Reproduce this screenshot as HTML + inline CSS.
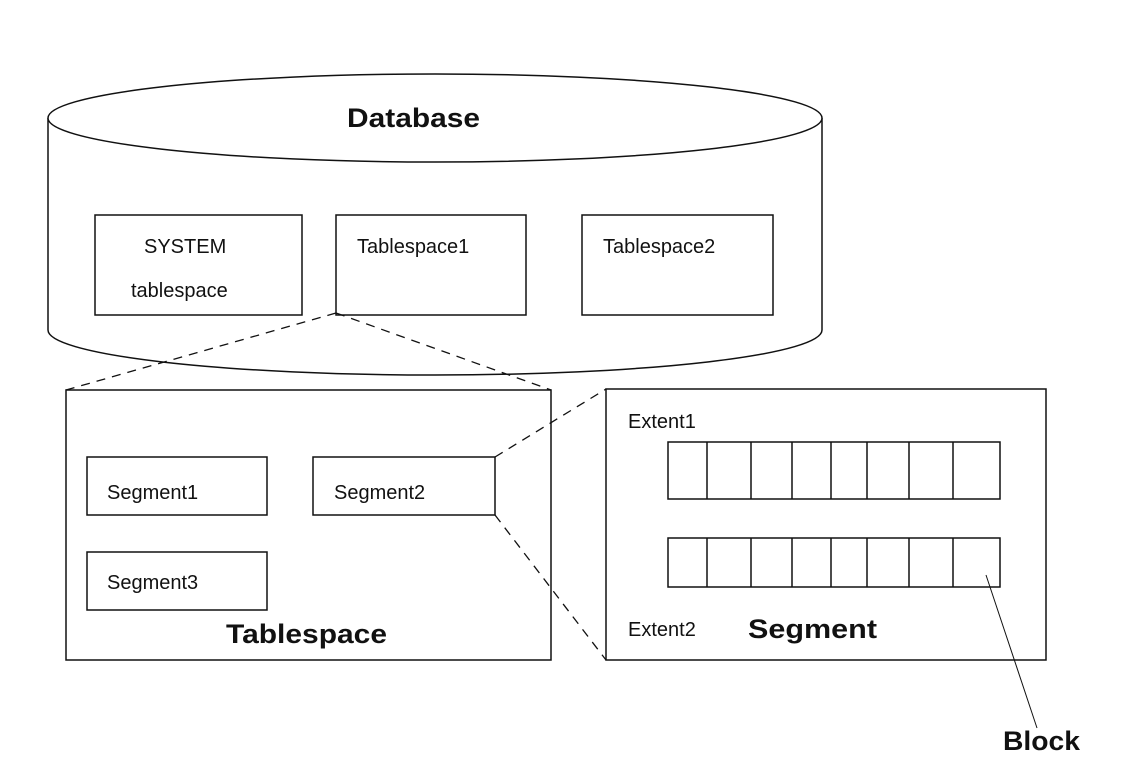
<!DOCTYPE html>
<html><head><meta charset="utf-8"><style>
html,body{margin:0;padding:0;background:#fff;}
svg{display:block;}
text{font-family:"Liberation Sans",sans-serif;fill:#111;}
.l{font-size:20px;}
.b{font-size:27px;font-weight:bold;}
</style></head><body>
<svg width="1148" height="780" viewBox="0 0 1148 780" xmlns="http://www.w3.org/2000/svg">
<g fill="none" stroke="#111" stroke-width="1.5">
<path d="M48 118 L48 330 A387 45 0 0 0 822 330 L822 118"/>
<ellipse cx="435" cy="118" rx="387" ry="44" fill="#fff"/>
<rect x="95" y="215" width="207" height="100"/>
<rect x="336" y="215" width="190" height="100"/>
<rect x="582" y="215" width="191" height="100"/>
<rect x="66" y="390" width="485" height="270"/>
<rect x="87" y="457" width="180" height="58"/>
<rect x="313" y="457" width="182" height="58"/>
<rect x="87" y="552" width="180" height="58"/>
<rect x="606" y="389" width="440" height="271"/>
<rect x="668" y="442" width="332" height="57"/>
<rect x="668" y="538" width="332" height="49"/>
<path d="M707 442V499M751 442V499M792 442V499M831 442V499M867 442V499M909 442V499M953 442V499"/>
<path d="M707 538V587M751 538V587M792 538V587M831 538V587M867 538V587M909 538V587M953 538V587"/>
<path d="M986 575 L1037 728" stroke-width="1"/>
</g>
<g stroke="#111" stroke-width="1.3" stroke-dasharray="9 7" fill="none">
<path d="M336 313 L66 390"/>
<path d="M336 313 L551 390"/>
<path d="M495 457 L606 389"/>
<path d="M495 515 L606 660"/>
</g>
<text class="b" x="347" y="127" textLength="133" lengthAdjust="spacingAndGlyphs">Database</text>
<text class="l" x="144" y="253">SYSTEM</text>
<text class="l" x="131" y="297">tablespace</text>
<text class="l" x="357" y="253">Tablespace1</text>
<text class="l" x="603" y="253">Tablespace2</text>
<text class="l" x="107" y="499">Segment1</text>
<text class="l" x="334" y="499">Segment2</text>
<text class="l" x="107" y="589">Segment3</text>
<text class="b" x="226" y="643" textLength="161" lengthAdjust="spacingAndGlyphs">Tablespace</text>
<text class="l" x="628" y="428">Extent1</text>
<text class="l" x="628" y="636">Extent2</text>
<text class="b" x="748" y="638" textLength="129" lengthAdjust="spacingAndGlyphs">Segment</text>
<text class="b" x="1003" y="750" textLength="77" lengthAdjust="spacingAndGlyphs">Block</text>
</svg>
</body></html>
